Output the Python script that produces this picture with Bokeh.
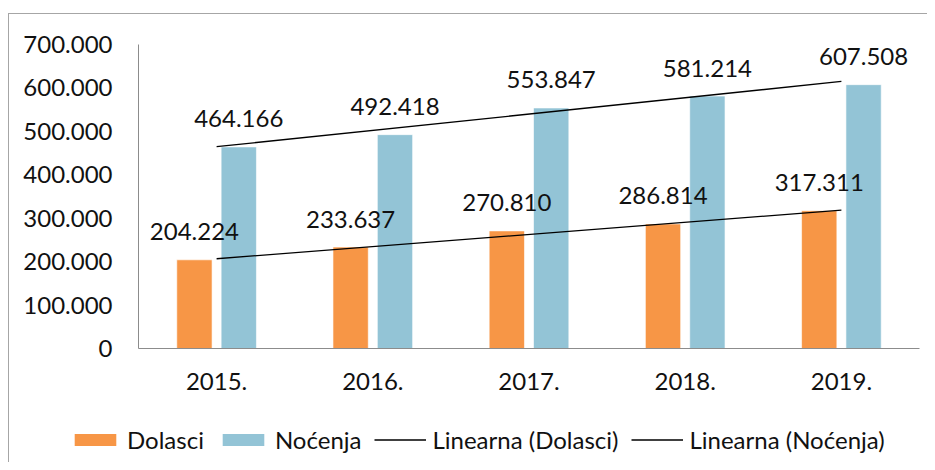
import numpy as np
from bokeh.plotting import figure
from bokeh.layouts import column
from bokeh.models import (ColumnDataSource, FactorRange, Range1d, FixedTicker,
                          LabelSet, Legend, LegendItem)
from bokeh.core.properties import value
from bokeh.transform import dodge
from bokeh.embed import file_html
from bokeh.resources import INLINE

# ---- data ----
years = ["2015.", "2016.", "2017.", "2018.", "2019."]
dolasci = [204224, 233637, 270810, 286814, 317311]
nocenja = [464166, 492418, 553847, 581214, 607508]
dolasci_labels = ["204.224", "233.637", "270.810", "286.814", "317.311"]
nocenja_labels = ["464.166", "492.418", "553.847", "581.214", "607.508"]
y_ticks = [0, 100000, 200000, 300000, 400000, 500000, 600000, 700000]
y_tick_labels = ["0", "100.000", "200.000", "300.000", "400.000", "500.000", "600.000", "700.000"]
legend_names = ["Dolasci", "Noćenja", "Linearna (Dolasci)", "Linearna (Noćenja)"]

ORANGE = "#F79646"
BLUE = "#93C4D6"
FONT = "Lato"
FS = "24px"
TXT = "#111111"

# linear trend lines fitted to the data
idx = np.arange(len(years))
kd, bd = np.polyfit(idx, dolasci, 1)
kn, bn = np.polyfit(idx, nocenja, 1)
trend_d = [bd, kd * (len(years) - 1) + bd]
trend_n = [bn, kn * (len(years) - 1) + bn]
trend_x = [years[0], years[-1]]

src = ColumnDataSource(dict(years=years, dolasci=dolasci, nocenja=nocenja,
                            dl=dolasci_labels, nl=nocenja_labels))

p = figure(x_range=FactorRange(*years, range_padding=0),
           y_range=Range1d(0, 700000),
           width=918, height=410, output_backend="svg", toolbar_location=None,
           min_border_left=129, min_border_right=8, min_border_top=30,
           min_border_bottom=76)
p.frame_align = False
p.outline_line_color = None
p.xgrid.grid_line_color = None
p.ygrid.grid_line_color = None

OFF = 0.142
W = 0.226
bar_style = dict(line_color="white", line_alpha=0.6, line_width=1)
p.vbar(x=dodge("years", -OFF, range=p.x_range), top="dolasci", width=W,
       source=src, fill_color=ORANGE, **bar_style)
p.vbar(x=dodge("years", OFF, range=p.x_range), top="nocenja", width=W,
       source=src, fill_color=BLUE, **bar_style)
p.line(trend_x, trend_d, line_color="black", line_width=1.3)
p.line(trend_x, trend_n, line_color="black", line_width=1.3)

for col, lab, off in (("dolasci", "dl", -OFF), ("nocenja", "nl", OFF)):
    ls = LabelSet(x=dodge("years", off, range=p.x_range), y=col, text=lab, source=src,
                  text_align="center", text_baseline="middle", y_offset=28,
                  text_font=value(FONT), text_font_size=value(FS), text_color=TXT)
    p.add_layout(ls)

# axes
p.yaxis.ticker = FixedTicker(ticks=y_ticks)
p.yaxis.major_label_overrides = {t: l for t, l in zip(y_ticks, y_tick_labels)}
for ax in (p.xaxis, p.yaxis):
    ax.major_tick_line_color = None
    ax.minor_tick_line_color = None
    ax.axis_line_color = "#8C8C8C"
    ax.axis_line_width = 1
    ax.major_label_text_font = FONT
    ax.major_label_text_font_size = FS
    ax.major_label_text_color = TXT
p.yaxis.major_label_standoff = 20
p.xaxis.major_label_standoff = 18

# legend strip (separate figure so the legend is not clipped by the chart frame)
lg = figure(width=918, height=38, x_range=Range1d(0, 1), y_range=Range1d(0, 1),
            output_backend="svg", toolbar_location=None,
            min_border_left=0, min_border_right=0, min_border_top=0, min_border_bottom=0)
lg.frame_align = False
lg.axis.visible = False
lg.grid.visible = False
lg.outline_line_color = None
# legend proxies (hidden renderers; only their legend swatches are shown)
g1 = lg.vbar(x="dolasci", top="dolasci", width=0.1, source=src, fill_color=ORANGE, line_color=None)
g2 = lg.vbar(x="nocenja", top="nocenja", width=0.1, source=src, fill_color=BLUE, line_color=None)
g3 = lg.line(x="dolasci", y="dolasci", source=src, line_color="black", line_width=1.3)
g4 = lg.line(x="nocenja", y="nocenja", source=src, line_color="black", line_width=1.3)
for g in (g1, g2, g3, g4):
    g.visible = False
legend = Legend(items=[LegendItem(label=legend_names[0], renderers=[g1]),
                       LegendItem(label=legend_names[1], renderers=[g2]),
                       LegendItem(label=legend_names[2], renderers=[g3]),
                       LegendItem(label=legend_names[3], renderers=[g4])],
                location=(60, 8), orientation="horizontal",
                glyph_width=52, glyph_height=15, label_standoff=6, spacing=13,
                padding=0, margin=0, border_line_color=None, background_fill_alpha=0,
                inactive_fill_alpha=0, click_policy="none",
                label_text_font=FONT, label_text_font_size=FS, label_text_color=TXT)
lg.add_layout(legend, "center")

layout = column(p, lg, spacing=0)
layout.styles = {"border-top": "1px solid #A6A6A6", "border-left": "1px solid #A6A6A6",
                 "margin-top": "13px", "margin-left": "8px"}

open("out.html", "w").write(file_html(layout, INLINE))
